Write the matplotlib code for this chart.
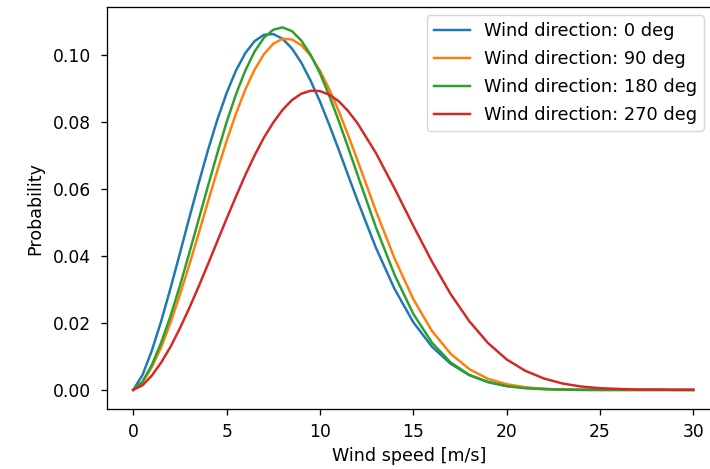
import matplotlib
matplotlib.use("Agg")
import matplotlib.pyplot as plt

wind_speed = [0, 0.5, 1, 1.5, 2, 2.5, 3, 3.5, 4, 4.5, 5, 5.5, 6, 6.5, 7, 7.5,
              8, 8.5, 9, 9.5, 10, 10.5, 11, 11.5, 12, 13, 14, 15, 16, 17, 18,
              19, 20, 21, 22, 23, 24, 25, 26, 27, 28, 29, 30]

prob_0 = [0, 0.0045, 0.0118, 0.0206, 0.0304, 0.0408, 0.0513, 0.0616, 0.0715,
          0.0806, 0.0886, 0.0953, 0.1005, 0.1041, 0.1060, 0.1062, 0.1048,
          0.1019, 0.0977, 0.0923, 0.0861, 0.0791, 0.0718, 0.0642,
          0.0567, 0.0424, 0.0301, 0.0202, 0.0129, 0.0078, 0.0044, 0.0024,
          0.0012, 0.0006, 0.0003, 0.0001, 0.0000, 0.0000, 0, 0, 0, 0, 0]

prob_90 = [0, 0.0023, 0.0068, 0.0128, 0.0201, 0.0284, 0.0373, 0.0466, 0.0561,
           0.0654, 0.0743, 0.0824, 0.0896, 0.0956, 0.1002, 0.1033, 0.1048,
           0.1046, 0.1029, 0.0998, 0.0953, 0.0897, 0.0833, 0.0762,
           0.0687, 0.0534, 0.0392, 0.0271, 0.0176, 0.0108, 0.0062, 0.0033,
           0.0017, 0.0008, 0.0003, 0.0001, 0.0001, 0.0000, 0, 0, 0, 0, 0]

prob_180 = [0, 0.0025, 0.0075, 0.0142, 0.0221, 0.0311, 0.0408, 0.0508, 0.0608,
            0.0706, 0.0799, 0.0882, 0.0953, 0.1010, 0.1051, 0.1075, 0.1082,
            0.1071, 0.1043, 0.1000, 0.0945, 0.0878, 0.0804, 0.0725,
            0.0644, 0.0485, 0.0343, 0.0227, 0.0141, 0.0082, 0.0045, 0.0023,
            0.0011, 0.0005, 0.0002, 0.0001, 0.0000, 0, 0, 0, 0, 0, 0]

prob_270 = [0, 0.0014, 0.0043, 0.0082, 0.0129, 0.0184, 0.0244, 0.0308, 0.0375,
            0.0443, 0.0511, 0.0577, 0.0641, 0.0700, 0.0753, 0.0798, 0.0836,
            0.0865, 0.0884, 0.0893, 0.0892, 0.0881, 0.0862, 0.0833,
            0.0797, 0.0707, 0.0601, 0.0490, 0.0383, 0.0286, 0.0205, 0.0140,
            0.0091, 0.0057, 0.0034, 0.0019, 0.0010, 0.0005, 0.0003, 0.0001,
            0.0001, 0.0000, 0.0000]

labels = ["Wind direction: 0 deg", "Wind direction: 90 deg",
          "Wind direction: 180 deg", "Wind direction: 270 deg"]
series = [prob_0, prob_90, prob_180, prob_270]
colors = ["#1f77b4", "#ff7f0e", "#2ca02c", "#d62728"]

plt.rcParams.update({
    "font.family": "DejaVu Sans",
    "font.size": 12.3,
    "axes.linewidth": 0.94,
    "xtick.major.size": 4.3,
    "ytick.major.size": 4.3,
    "xtick.major.width": 0.94,
    "ytick.major.width": 0.94,
    "xtick.major.pad": 5.8,
    "ytick.major.pad": 7.5,
    "xtick.labelsize": 12.3,
    "ytick.labelsize": 12.3,
})

fig = plt.figure(figsize=(7.10, 4.69), dpi=100)
ax = fig.add_axes([107.3 / 710, 60 / 469, (712 - 107.3) / 710, (409 - 7.3) / 469])

for vals, lab, col in zip(series, labels, colors):
    ax.plot(wind_speed, vals, color=col, lw=1.77, label=lab)

ax.set_xlim(-1.39, 31.0)
ax.set_ylim(-0.0057, 0.1142)
ax.set_xticks([0, 5, 10, 15, 20, 25, 30])
ax.set_yticks([0.00, 0.02, 0.04, 0.06, 0.08, 0.10])
ax.set_yticklabels(["0.00", "0.02", "0.04", "0.06", "0.08", "0.10"])
ax.set_xlabel("Wind speed [m/s]", fontsize=12.6, labelpad=4)
ax.set_ylabel("Probability", fontsize=12.6, labelpad=6)
ax.legend(loc="upper right", fontsize=12.8, labelspacing=0.55,
          borderaxespad=0.45)

fig.savefig("out.png", dpi=100)
